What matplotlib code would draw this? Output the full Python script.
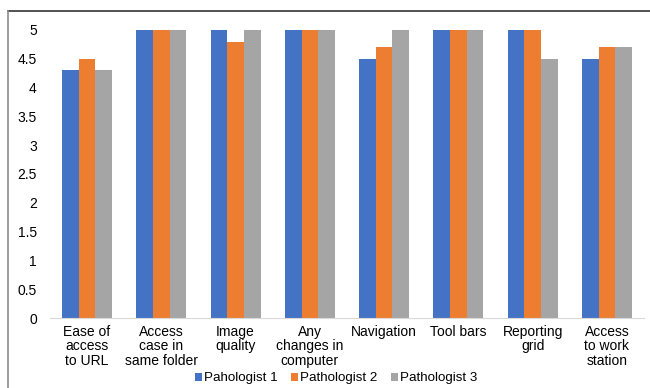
import matplotlib.pyplot as plt
from matplotlib.lines import Line2D
import numpy as np

plt.rcParams['font.family'] = ['Liberation Sans', 'DejaVu Sans']

# Datos del gráfico
categorias = ["Ease of\naccess\nto URL", "Access\ncase in\nsame folder", "Image\nquality",
              "Any\nchanges in\ncomputer", "Navigation", "Tool bars", "Reporting\ngrid",
              "Access\nto work\nstation"]
series = ["Pahologist 1", "Pathologist 2", "Pathologist 3"]
p1 = [4.3, 5, 5, 5, 4.5, 5, 5, 4.5]
p2 = [4.5, 5, 4.8, 5, 4.7, 5, 5, 4.7]
p3 = [4.3, 5, 5, 5, 5, 5, 4.5, 4.7]
colores = ['#4472C4', '#ED7D31', '#A5A5A5']

fig = plt.figure(figsize=(6.5, 3.88), dpi=100)
ax = fig.add_axes([0.0769, 0.1804, 0.9139, 0.7423])

x = np.arange(len(categorias))
w = 0.224
for i, (vals, nombre) in enumerate(zip([p1, p2, p3], series)):
    ax.bar(x + (i - 1) * w, vals, width=w, color=colores[i], label=nombre)

ax.set_xlim(-0.5, len(categorias) - 0.5)
ax.set_ylim(0, 5)
ax.set_yticks(np.arange(0, 5.01, 0.5))
ax.set_yticklabels(['0', '0.5', '1', '1.5', '2', '2.5', '3', '3.5', '4', '4.5', '5'])
ax.set_xticks(x)
ax.set_xticklabels(categorias, linespacing=1.05, va='top')
ax.tick_params(axis='both', length=0, labelsize=10, colors='black')
ax.tick_params(axis='y', pad=9.5)
ax.tick_params(axis='x', pad=5)

for s in ['top', 'right', 'left']:
    ax.spines[s].set_visible(False)
ax.spines['bottom'].set_color('#D9D9D9')

leg = fig.legend(loc='center', bbox_to_anchor=(0.517, 0.025), ncol=3, frameon=False,
                 fontsize=9.6, handlelength=0.55, handleheight=0.55, handletextpad=0.15,
                 columnspacing=1.0)

# Marco de la figura (arriba y a la izquierda)
fig.add_artist(Line2D([0.0123, 1], [0.9716, 0.9716], color='#333333', lw=1.2))
fig.add_artist(Line2D([0.0123, 0.0123], [0, 0.9716], color='#8C8C8C', lw=1.2))

plt.savefig('out.png', dpi=100)
